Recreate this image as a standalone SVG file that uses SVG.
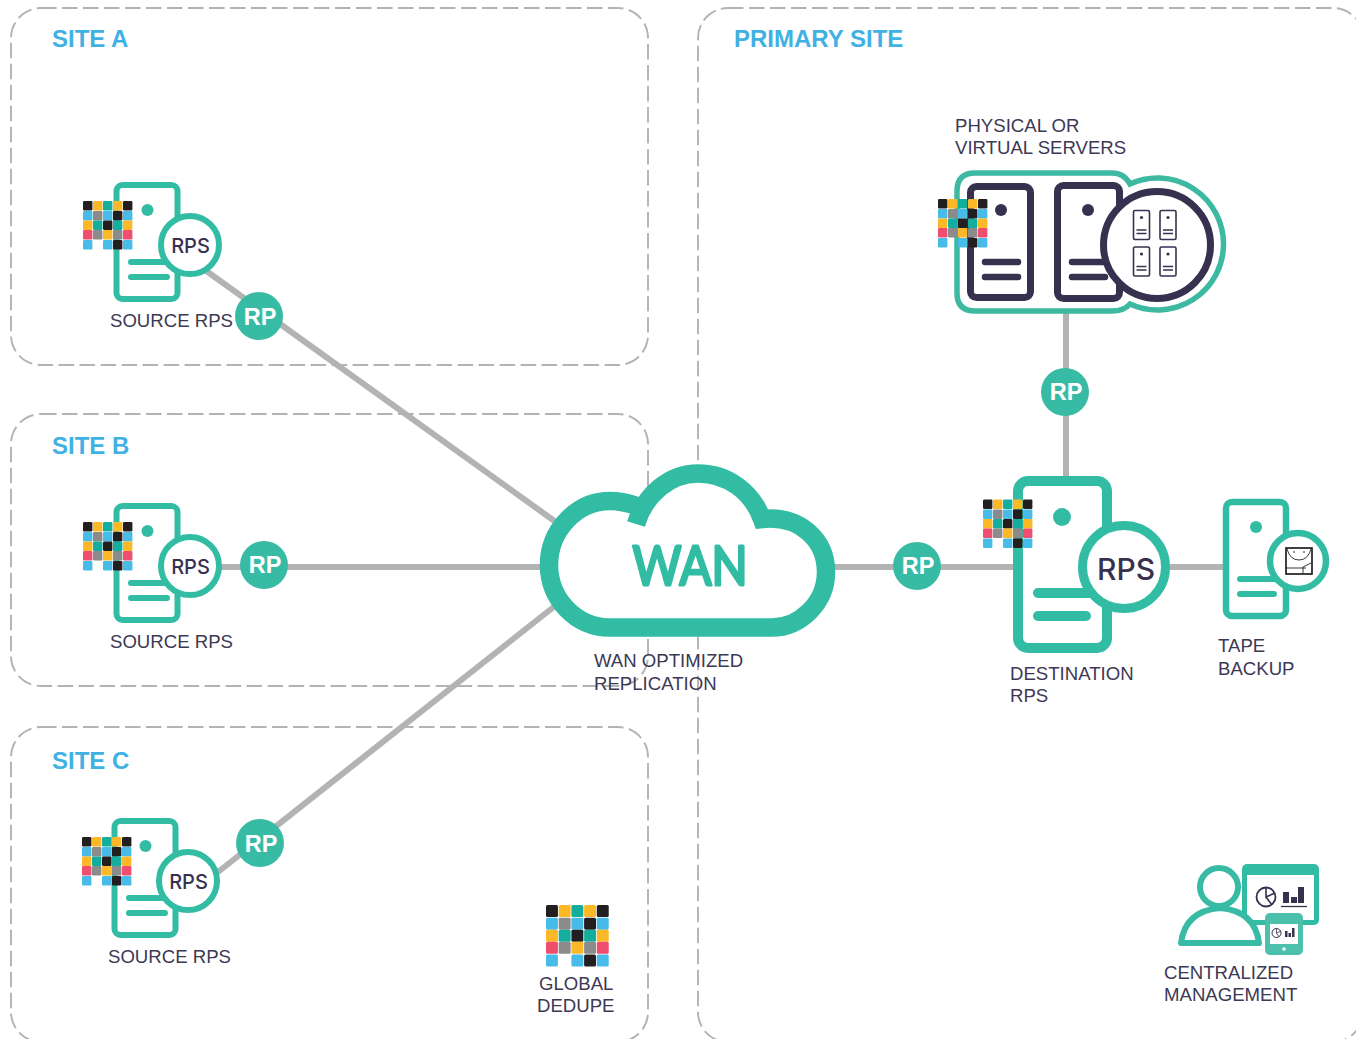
<svg xmlns="http://www.w3.org/2000/svg" xmlns:xlink="http://www.w3.org/1999/xlink" width="1356" height="1039" viewBox="0 0 1356 1039">
<style>
.site{fill:none;stroke:#b3b3b3;stroke-width:1.9;stroke-dasharray:15.500 5.500}
.title{font:bold 24px "Liberation Sans",Arial,sans-serif;fill:#3fb1e3}
.lbl{font:18.6px "Liberation Sans",Arial,sans-serif;fill:#3d3854}
.conn{stroke:#b3b3b3;stroke-width:6;fill:none}
.rpc{fill:#38bba5}
.rpt{font:bold 23.500px "Liberation Sans",Arial,sans-serif;fill:#fff;text-anchor:middle}
.rps{font:500 20px Inter,"Liberation Sans",sans-serif;fill:#38304f;text-anchor:middle}
.tl{fill:none;stroke:#33bca4}
.dk{fill:none;stroke:#38304f}
.k{fill:#231f20}.y{fill:#fdb827}.t{fill:#13ae9d}.b{fill:#47bce8}.g{fill:#8b8b8b}.r{fill:#f04e6e}
</style>
<defs>
<g id="matrix">
<rect class="k" x="0" y="0" width="9.400" height="9.400" rx="1.200"/><rect class="y" x="10" y="0" width="9.400" height="9.400" rx="1.200"/><rect class="t" x="20" y="0" width="9.400" height="9.400" rx="1.200"/><rect class="y" x="30" y="0" width="9.400" height="9.400" rx="1.200"/><rect class="k" x="40" y="0" width="9.400" height="9.400" rx="1.200"/>
<rect class="b" x="0" y="10" width="9.400" height="9.400" rx="1.200"/><rect class="g" x="10" y="10" width="9.400" height="9.400" rx="1.200"/><rect class="b" x="20" y="10" width="9.400" height="9.400" rx="1.200"/><rect class="k" x="30" y="10" width="9.400" height="9.400" rx="1.200"/><rect class="b" x="40" y="10" width="9.400" height="9.400" rx="1.200"/>
<rect class="y" x="0" y="19.500" width="9.400" height="9.400" rx="1.200"/><rect class="t" x="10" y="19.500" width="9.400" height="9.400" rx="1.200"/><rect class="k" x="20" y="19.500" width="9.400" height="9.400" rx="1.200"/><rect class="t" x="30" y="19.500" width="9.400" height="9.400" rx="1.200"/><rect class="y" x="40" y="19.500" width="9.400" height="9.400" rx="1.200"/>
<rect class="r" x="0" y="29" width="9.400" height="9.400" rx="1.200"/><rect class="g" x="10" y="29" width="9.400" height="9.400" rx="1.200"/><rect class="y" x="20" y="29" width="9.400" height="9.400" rx="1.200"/><rect class="g" x="30" y="29" width="9.400" height="9.400" rx="1.200"/><rect class="r" x="40" y="29" width="9.400" height="9.400" rx="1.200"/>
<rect class="b" x="0" y="39" width="9.400" height="9.400" rx="1.200"/><rect class="b" x="20" y="39" width="9.400" height="9.400" rx="1.200"/><rect class="k" x="30" y="39" width="9.400" height="9.400" rx="1.200"/><rect class="b" x="40" y="39" width="9.400" height="9.400" rx="1.200"/>
</g>
<g id="srv">
<rect class="tl" x="116.500" y="185" width="61" height="114" rx="6" stroke-width="6" style="fill:#fff"/>
<circle cx="147.500" cy="210" r="6" fill="#33bca4"/>
<path class="tl" d="M131 262H166M131 277H167" stroke-width="6" stroke-linecap="round"/>
<circle class="tl" cx="190" cy="245" r="29" stroke-width="6" style="fill:#fff"/>
</g>
<g id="mini">
<rect class="dk" x="0" y="0" width="16" height="29" rx="1.500" stroke-width="1.600"/>
<circle cx="8" cy="7" r="1.600" fill="#38304f"/>
<path class="dk" d="M3 19.500H13M3 23H13" stroke-width="1.300"/>
</g>
</defs>

<g id="sites">
<rect class="site" x="11" y="8" width="637" height="357" rx="30"/>
<rect class="site" x="11" y="414" width="637" height="272" rx="30"/>
<rect class="site" x="11" y="727" width="637" height="315" rx="30"/>
<rect class="site" x="698" y="8" width="665" height="1034" rx="30"/>
<text class="title" x="52" y="47">SITE A</text>
<text class="title" x="52" y="454">SITE B</text>
<text class="title" x="52" y="769">SITE C</text>
<text class="title" x="734" y="47">PRIMARY SITE</text>
</g>

<g id="connectors">
<path class="conn" d="M205 270L560 525"/>
<path class="conn" d="M220 567H545"/>
<path class="conn" d="M560 602L218 872"/>
<path class="conn" d="M1066 312V478"/>
<path class="conn" d="M830 567H1015"/>
<path class="conn" d="M1170 567H1225"/>
</g>

<g id="node-wan">
<path d="M636 524C645 494 670 473.500 698 473.500C728 473.500 752 492 762 519C800 515 826 540 826 572C826 603 800 627.500 772 627.500L610 627.500C575 627.500 549 598 549 565C549 530 577 501 610 501C620 501 628 503 637 506" fill="#fff" stroke="#33bca4" stroke-width="18.500"/>
<text x="632.500" y="585" font-family="Lato,'Noto Sans',sans-serif" font-size="55" font-weight="400" fill="#33bca4" stroke="#33bca4" stroke-width="3" stroke-linejoin="round" textLength="115" lengthAdjust="spacingAndGlyphs">WAN</text>
<text class="lbl" x="594" y="667">WAN OPTIMIZED</text>
<text class="lbl" x="594" y="690">REPLICATION</text>
</g>

<g id="node-site-a">
<use href="#srv"/><use href="#matrix" x="83" y="201"/>
<text class="rps" x="190.500" y="252.500">RPS</text>
<text class="lbl" x="110" y="327">SOURCE RPS</text>
</g>
<g id="node-site-b">
<use href="#srv" y="321"/><use href="#matrix" x="83" y="522"/>
<text class="rps" x="190.500" y="573.500">RPS</text>
<text class="lbl" x="110" y="648">SOURCE RPS</text>
</g>
<g id="node-site-c">
<use href="#srv" x="-2" y="636"/><use href="#matrix" x="82" y="837"/>
<text class="rps" x="188.500" y="888.500">RPS</text>
<text class="lbl" x="108" y="963">SOURCE RPS</text>
</g>

<g id="rp-a"><circle class="rpc" cx="259" cy="316" r="24"/><text class="rpt" x="260" y="324.500">RP</text></g>
<g id="rp-b"><circle class="rpc" cx="264" cy="565" r="24"/><text class="rpt" x="265" y="573">RP</text></g>
<g id="rp-c"><circle class="rpc" cx="260" cy="843" r="24"/><text class="rpt" x="261" y="851.500">RP</text></g>
<g id="rp-top"><circle class="rpc" cx="1065" cy="392" r="24"/><text class="rpt" x="1066" y="400">RP</text></g>
<g id="rp-dest"><circle class="rpc" cx="917" cy="566" r="24"/><text class="rpt" x="918" y="574">RP</text></g>

<g id="node-servers">
<text class="lbl" x="955" y="132">PHYSICAL OR</text>
<text class="lbl" x="955" y="154">VIRTUAL SERVERS</text>
<path d="M975 173H1112Q1124 173 1130 184A66 66 0 1 1 1130 304Q1124 311 1112 311H975Q957 311 957 293V191Q957 173 975 173Z" fill="#fff" stroke="#3db9a2" stroke-width="5.500"/>
<rect class="dk" x="970.500" y="186.500" width="60" height="111" rx="6" stroke-width="7"/>
<circle cx="1001" cy="210" r="6" fill="#38304f"/>
<path class="dk" d="M985 262H1018M985 277H1018" stroke-width="6.500" stroke-linecap="round"/>
<rect class="dk" x="1057.500" y="185.500" width="62" height="113" rx="6" stroke-width="7"/>
<circle cx="1088" cy="210" r="6" fill="#38304f"/>
<path class="dk" d="M1072 262H1110M1072 277H1105" stroke-width="6.500" stroke-linecap="round"/>
<circle class="dk" cx="1157" cy="245" r="53.500" stroke-width="7" style="fill:#fff"/>
<use href="#mini" x="1133.500" y="210.500"/><use href="#mini" x="1160" y="210.500"/>
<use href="#mini" x="1133.500" y="247"/><use href="#mini" x="1160" y="247"/>
<use href="#matrix" x="938" y="199"/>
</g>

<g id="node-destination">
<rect class="tl" x="1018" y="481" width="89" height="167" rx="10" stroke-width="10" style="fill:#fff"/>
<circle cx="1062" cy="517" r="9" fill="#33bca4"/>
<path class="tl" d="M1038 593H1089M1038 616H1086" stroke-width="10" stroke-linecap="round"/>
<circle class="tl" cx="1124" cy="567" r="41.500" stroke-width="9" style="fill:#fff"/>
<text class="rps" x="1126" y="580" style="font-size:30px">RPS</text>
<use href="#matrix" x="983" y="499.500"/>
<text class="lbl" x="1010" y="680">DESTINATION</text>
<text class="lbl" x="1010" y="702">RPS</text>
</g>

<g id="node-tape">
<rect class="tl" x="1226" y="502" width="60" height="114" rx="6" stroke-width="6.500" style="fill:#fff"/>
<circle cx="1256" cy="527" r="6" fill="#33bca4"/>
<path class="tl" d="M1240 579H1276M1240 594H1274" stroke-width="6" stroke-linecap="round"/>
<circle class="tl" cx="1298" cy="561" r="28" stroke-width="6.500" style="fill:#fff"/>
<rect x="1286" y="548" width="26" height="26" fill="none" stroke="#111" stroke-width="1.600"/>
<path d="M1287 549Q1290 560 1299 560Q1308 560 1311 549M1286 568H1306M1303 573V567L1311 563" fill="none" stroke="#222" stroke-width="0.900"/>
<circle cx="1294" cy="552" r="0.800" fill="#111"/><circle cx="1304" cy="552" r="0.800" fill="#111"/>
<text class="lbl" x="1218" y="652">TAPE</text>
<text class="lbl" x="1218" y="675">BACKUP</text>
</g>

<g id="node-dedupe">
<use href="#matrix" transform="translate(546 905) scale(1.270)"/>
<text class="lbl" x="539" y="990">GLOBAL</text>
<text class="lbl" x="537" y="1012">DEDUPE</text>
</g>

<g id="node-management">
<rect x="1242" y="864" width="77" height="61" rx="5" fill="#33bca4"/>
<rect x="1247" y="875" width="67" height="45" fill="#fff"/>
<circle cx="1266" cy="897" r="9.500" fill="none" stroke="#38304f" stroke-width="1.800"/>
<path d="M1266 887V897L1275 893M1266 897L1272 905" fill="none" stroke="#38304f" stroke-width="1.600"/>
<path d="M1283 892h6v11h-6zM1291 897h6v6h-6zM1298 887h6v16h-6z" fill="#38304f"/>
<path d="M1281 906.500H1307" stroke="#38304f" stroke-width="1.300"/>
<path d="M1181 943Q1185 911 1220 908Q1255 911 1259 943Z" fill="#fff" stroke="#38bba5" stroke-width="6" stroke-linejoin="round"/>
<circle cx="1219" cy="887" r="19" fill="#fff" stroke="#38bba5" stroke-width="6"/>
<rect x="1265" y="913" width="38" height="42" rx="5" fill="#4cc0ab"/>
<rect x="1270" y="924" width="28" height="20" fill="#fff"/>
<circle cx="1284" cy="949" r="1.800" fill="#fff"/>
<circle cx="1276.500" cy="933" r="4.500" fill="none" stroke="#38304f" stroke-width="1"/>
<path d="M1276.500 928.500V933L1281 931M1276.500 933L1279 937" fill="none" stroke="#38304f" stroke-width="0.800"/>
<path d="M1285 931h2.500v6h-2.500zM1288.500 933h2.500v4h-2.500zM1292 928h2.500v9h-2.500z" fill="#38304f"/>
<text class="lbl" x="1164" y="979">CENTRALIZED</text>
<text class="lbl" x="1164" y="1001">MANAGEMENT</text>
</g>
</svg>
